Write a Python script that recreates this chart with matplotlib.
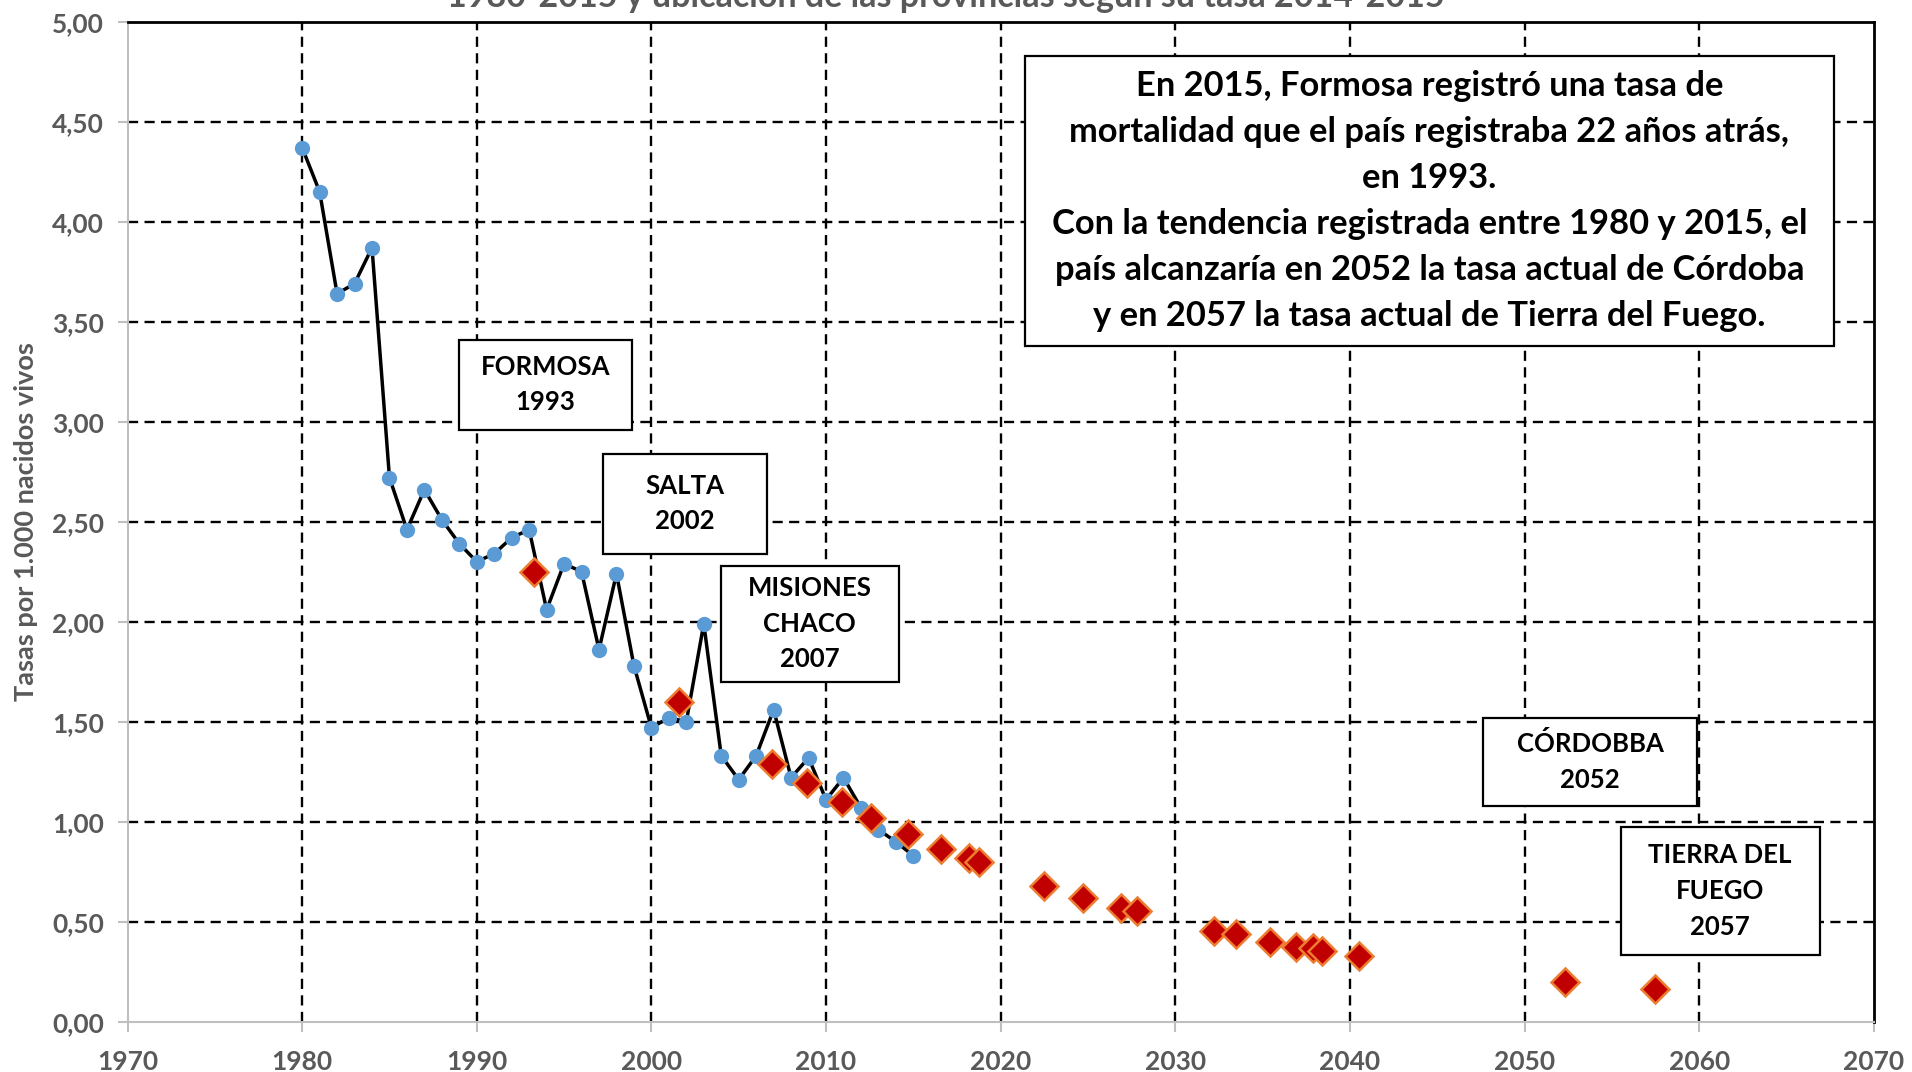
import matplotlib
matplotlib.use("Agg")
import matplotlib.pyplot as plt
from matplotlib.patches import Rectangle
from matplotlib.ticker import FixedLocator

plt.rcParams['font.family'] = ['Lato', 'DejaVu Sans']

# ---- data ----
years = list(range(1980, 2016))
rates = [4.37, 4.15, 3.64, 3.69, 3.87, 2.72, 2.46, 2.66, 2.51, 2.39,
         2.30, 2.34, 2.42, 2.46, 2.06, 2.29, 2.25, 1.86, 2.24, 1.78,
         1.47, 1.52, 1.50, 1.99, 1.33, 1.21, 1.33, 1.56, 1.22, 1.32,
         1.11, 1.22, 1.07, 0.96, 0.90, 0.83]

prov_years = [1993.3, 2001.6, 2006.9, 2008.9, 2010.9, 2012.6, 2014.7, 2016.6,
              2018.2, 2018.75, 2022.5, 2024.7, 2026.9, 2027.8, 2032.2, 2033.5,
              2035.4, 2036.9, 2037.9, 2038.4, 2040.5, 2052.3, 2057.5]
prov_rates = [2.25, 1.60, 1.29, 1.195, 1.10, 1.02, 0.94, 0.865,
              0.82, 0.80, 0.68, 0.62, 0.57, 0.555, 0.455, 0.437,
              0.397, 0.375, 0.37, 0.353, 0.328, 0.20, 0.162]

x_ticks = [1970, 1980, 1990, 2000, 2010, 2020, 2030, 2040, 2050, 2060, 2070]
y_ticks = [0.0, 0.5, 1.0, 1.5, 2.0, 2.5, 3.0, 3.5, 4.0, 4.5, 5.0]
y_tick_labels = ["0,00", "0,50", "1,00", "1,50", "2,00", "2,50",
                 "3,00", "3,50", "4,00", "4,50", "5,00"]

title_text = "1980-2015 y ubicación de las provincias según su tasa 2014-2015"
ylabel_text = "Tasas por 1.000 nacidos vivos"
main_note = ("En 2015, Formosa registró una tasa de\n"
             "mortalidad que el país registraba 22 años atrás,\n"
             "en 1993.\n"
             "Con la tendencia registrada entre 1980 y 2015, el\n"
             "país alcanzaría en 2052 la tasa actual de Córdoba\n"
             "y en 2057 la tasa actual de Tierra del Fuego.")
box_labels = ["FORMOSA\n1993", "SALTA\n2002", "MISIONES\nCHACO\n2007",
              "CÓRDOBBA\n2052", "TIERRA DEL\nFUEGO\n2057"]
# box extents (x0, x1, y0, y1) in data units
box_extents = [(1989.0, 1998.9, 2.96, 3.41),
               (1997.2, 2006.6, 2.34, 2.84),
               (2003.97, 2014.16, 1.70, 2.28),
               (2047.6, 2059.9, 1.08, 1.52),
               (2055.5, 2066.9, 0.333, 0.975)]

GRAY = '#595959'
SPINE_GRAY = '#BFBFBF'

fig = plt.figure(figsize=(19.12, 10.72), dpi=100)
ax = fig.add_axes([0.0667, 0.0469, 0.9133, 0.9329])
ax.set_xlim(1970, 2070)
ax.set_ylim(0, 5)

# gridlines (interior only)
dash = (0, (4.3, 2.7))
for xv in x_ticks[1:-1]:
    ax.axvline(xv, color='black', lw=1.7, linestyle=dash, zorder=1)
for yv in y_ticks[1:-1]:
    ax.axhline(yv, color='black', lw=1.7, linestyle=dash, zorder=1)

# spines
for s in ['left', 'bottom']:
    ax.spines[s].set_color(SPINE_GRAY)
    ax.spines[s].set_linewidth(1.5)
for s in ['top', 'right']:
    ax.spines[s].set_color('black')
    ax.spines[s].set_linewidth(2.0)

ax.xaxis.set_major_locator(FixedLocator(x_ticks))
ax.yaxis.set_major_locator(FixedLocator(y_ticks))
ax.set_yticklabels(y_tick_labels)
ax.set_xticklabels([str(v) for v in x_ticks])
ax.tick_params(axis='both', direction='out', length=7, width=1.5,
               color=SPINE_GRAY, labelcolor=GRAY, labelsize=19)
ax.tick_params(axis='y', pad=10)
ax.tick_params(axis='x', pad=13)
for lab in ax.get_xticklabels() + ax.get_yticklabels():
    lab.set_fontweight('bold')

# series
ax.plot(years, rates, color='black', lw=2.5, zorder=3)
ax.plot(years, rates, linestyle='none', marker='o', ms=11,
        color='#5B9BD5', markeredgewidth=0, zorder=4)
ax.plot(prov_years, prov_rates, linestyle='none', marker='D', ms=14,
        markerfacecolor='#C00000', markeredgecolor='#ED7D31',
        markeredgewidth=1.8, zorder=5)

# text boxes
for (x0, x1, y0, y1), lab in zip(box_extents, box_labels):
    ax.add_patch(Rectangle((x0, y0), x1 - x0, y1 - y0, facecolor='white',
                           edgecolor='black', lw=1.6, zorder=6))
    ax.text((x0 + x1) / 2, (y0 + y1) / 2, lab, ha='center', va='center',
            fontsize=18.5, fontweight='bold', color='black',
            linespacing=1.58, zorder=7)

bx0, bx1, by0, by1 = 2021.4, 2067.7, 3.38, 4.83
ax.add_patch(Rectangle((bx0, by0), bx1 - bx0, by1 - by0, facecolor='white',
                       edgecolor='black', lw=1.6, zorder=6))
ax.text((bx0 + bx1) / 2, (by0 + by1) / 2, main_note, ha='center',
        va='center', fontsize=24.8, fontweight='bold', color='black',
        linespacing=1.54, zorder=7)

# partially visible title and y label
fig.text(0.4946, 1 - 7 / 1072, title_text, ha='center', va='baseline',
         fontsize=24.5, fontweight='bold', color=GRAY)
fig.text(26 / 1912, 0.5131, ylabel_text, rotation=90, ha='center',
         va='center', fontsize=19.5, fontweight='bold', color=GRAY)

fig.savefig('out.png', dpi=100)
